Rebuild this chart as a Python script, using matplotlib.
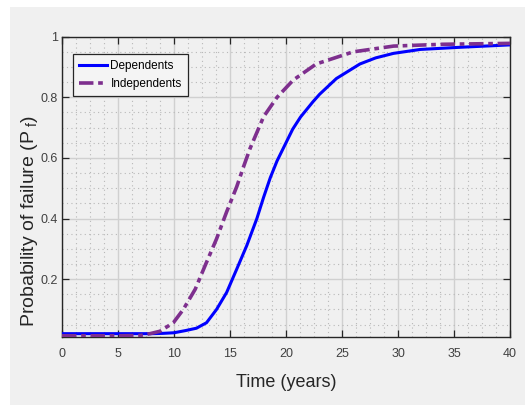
import matplotlib
matplotlib.use("Agg")
import matplotlib.pyplot as plt
from matplotlib.patches import Rectangle
from matplotlib.ticker import MultipleLocator

plt.rcParams["mathtext.fontset"] = "custom"
plt.rcParams["mathtext.rm"] = "Liberation Sans"
plt.rcParams["mathtext.it"] = "Liberation Sans:italic"

# ---- data ----
dep_t = [0, 5, 8, 9, 10, 11, 12, 12.9, 13.8, 14.7, 15.6, 16.5, 17.4, 18.0, 18.6,
         19.2, 20.0, 20.6, 21.3, 22.4, 23.0, 24.5, 26.6, 28.0, 29.6, 32.0, 35.5, 40]
dep_p = [0.02, 0.02, 0.02, 0.021, 0.023, 0.03, 0.038, 0.056, 0.10, 0.156, 0.233, 0.311,
         0.40, 0.47, 0.535, 0.59, 0.65, 0.695, 0.735, 0.785, 0.81, 0.862, 0.91, 0.93,
         0.945, 0.958, 0.965, 0.973]

ind_t = [0, 5, 7, 7.86, 8.75, 9.94, 10.83, 11.9, 12.77, 13.8, 14.7, 15.6, 16.2, 16.8,
         18.0, 19.2, 20.65, 22.7, 26.0, 29.6, 34.0, 40]
ind_p = [0.013, 0.013, 0.014, 0.02, 0.028, 0.056, 0.10, 0.167, 0.244, 0.333, 0.422,
         0.505, 0.57, 0.632, 0.736, 0.80, 0.857, 0.91, 0.95, 0.969, 0.975, 0.978]

series_labels = ["Dependents", "Independents"]
x_ticks = [0, 5, 10, 15, 20, 25, 30, 35, 40]
y_ticks = [0.2, 0.4, 0.6, 0.8, 1.0]
y_ticklabels = ["0.2", "0.4", "0.6", "0.8", "1"]

FONT = ["Liberation Sans", "DejaVu Sans"]

W, H = 525, 405
fig = plt.figure(figsize=(W / 100, H / 100), dpi=100, facecolor="white")
fig.patches.append(Rectangle((10 / W, 0), 1, (H - 7) / H, transform=fig.transFigure,
                             facecolor="#f0f0f0", edgecolor="none", zorder=-10))

ax = fig.add_axes([62 / W, (H - 336.7) / H, (510 - 62) / W, 300 / H])
ax.set_facecolor("#f0f0f0")

ax.plot(dep_t, dep_p, color="#0000ff", lw=2.2, label=series_labels[0], zorder=3)
ax.plot(ind_t, ind_p, color="#7e2f8e", lw=2.6, dashes=(4, 1.3, 1.3, 1.3),
        label=series_labels[1], zorder=4)

ax.set_xlim(0, 40)
ax.set_ylim(0.01, 1.0)
ax.set_xticks(x_ticks)
ax.set_xticklabels([str(v) for v in x_ticks], family=FONT, fontsize=9, color="#404040")
ax.set_yticks(y_ticks)
ax.set_yticklabels(y_ticklabels, family=FONT, fontsize=9, color="#404040")
ax.xaxis.set_minor_locator(MultipleLocator(1.25))
ax.yaxis.set_minor_locator(MultipleLocator(0.05))

ax.tick_params(which="major", direction="in", length=5, width=0.9, color="#262626",
               top=True, right=True)
ax.tick_params(axis="x", which="major", pad=8)
ax.tick_params(axis="y", which="major", pad=3)
ax.tick_params(which="minor", length=0, top=True, right=True)

ax.grid(which="major", color="#d0d0d0", lw=1.0, ls="-", zorder=0)
ax.grid(which="minor", color="#b8b8b8", lw=0.8, ls=(0, (1, 3)), zorder=0)
ax.set_axisbelow(True)

for s in ax.spines.values():
    s.set_color("#262626")
    s.set_linewidth(1.0)

ax.set_xlabel("Time (years)", family=FONT, fontsize=13, color="#262626")
ax.xaxis.set_label_coords(0.5, -(374 - 336.7) / 300)
ax.xaxis.label.set_va("top")
ax.set_ylabel("Probability of failure (P$_\\mathrm{\\ f}$)", family=FONT, fontsize=14,
              color="#262626")
ax.yaxis.set_label_coords((40 - 62) / 448, 0.384)

leg = ax.legend(loc="upper left", bbox_to_anchor=((72.7 - 62) / 448, (336.7 - 54.3) / 300),
                borderaxespad=0, fancybox=False, frameon=True, handlelength=2.4,
                prop={"family": FONT, "size": 8.5},
                borderpad=0.5, labelspacing=0.5, handletextpad=0.3)
leg.get_frame().set_edgecolor("#262626")
leg.get_frame().set_facecolor("#f4f4f4")
leg.get_frame().set_linewidth(0.9)
leg.get_frame().set_alpha(1)

fig.savefig("out.png", dpi=100, facecolor=fig.get_facecolor())
